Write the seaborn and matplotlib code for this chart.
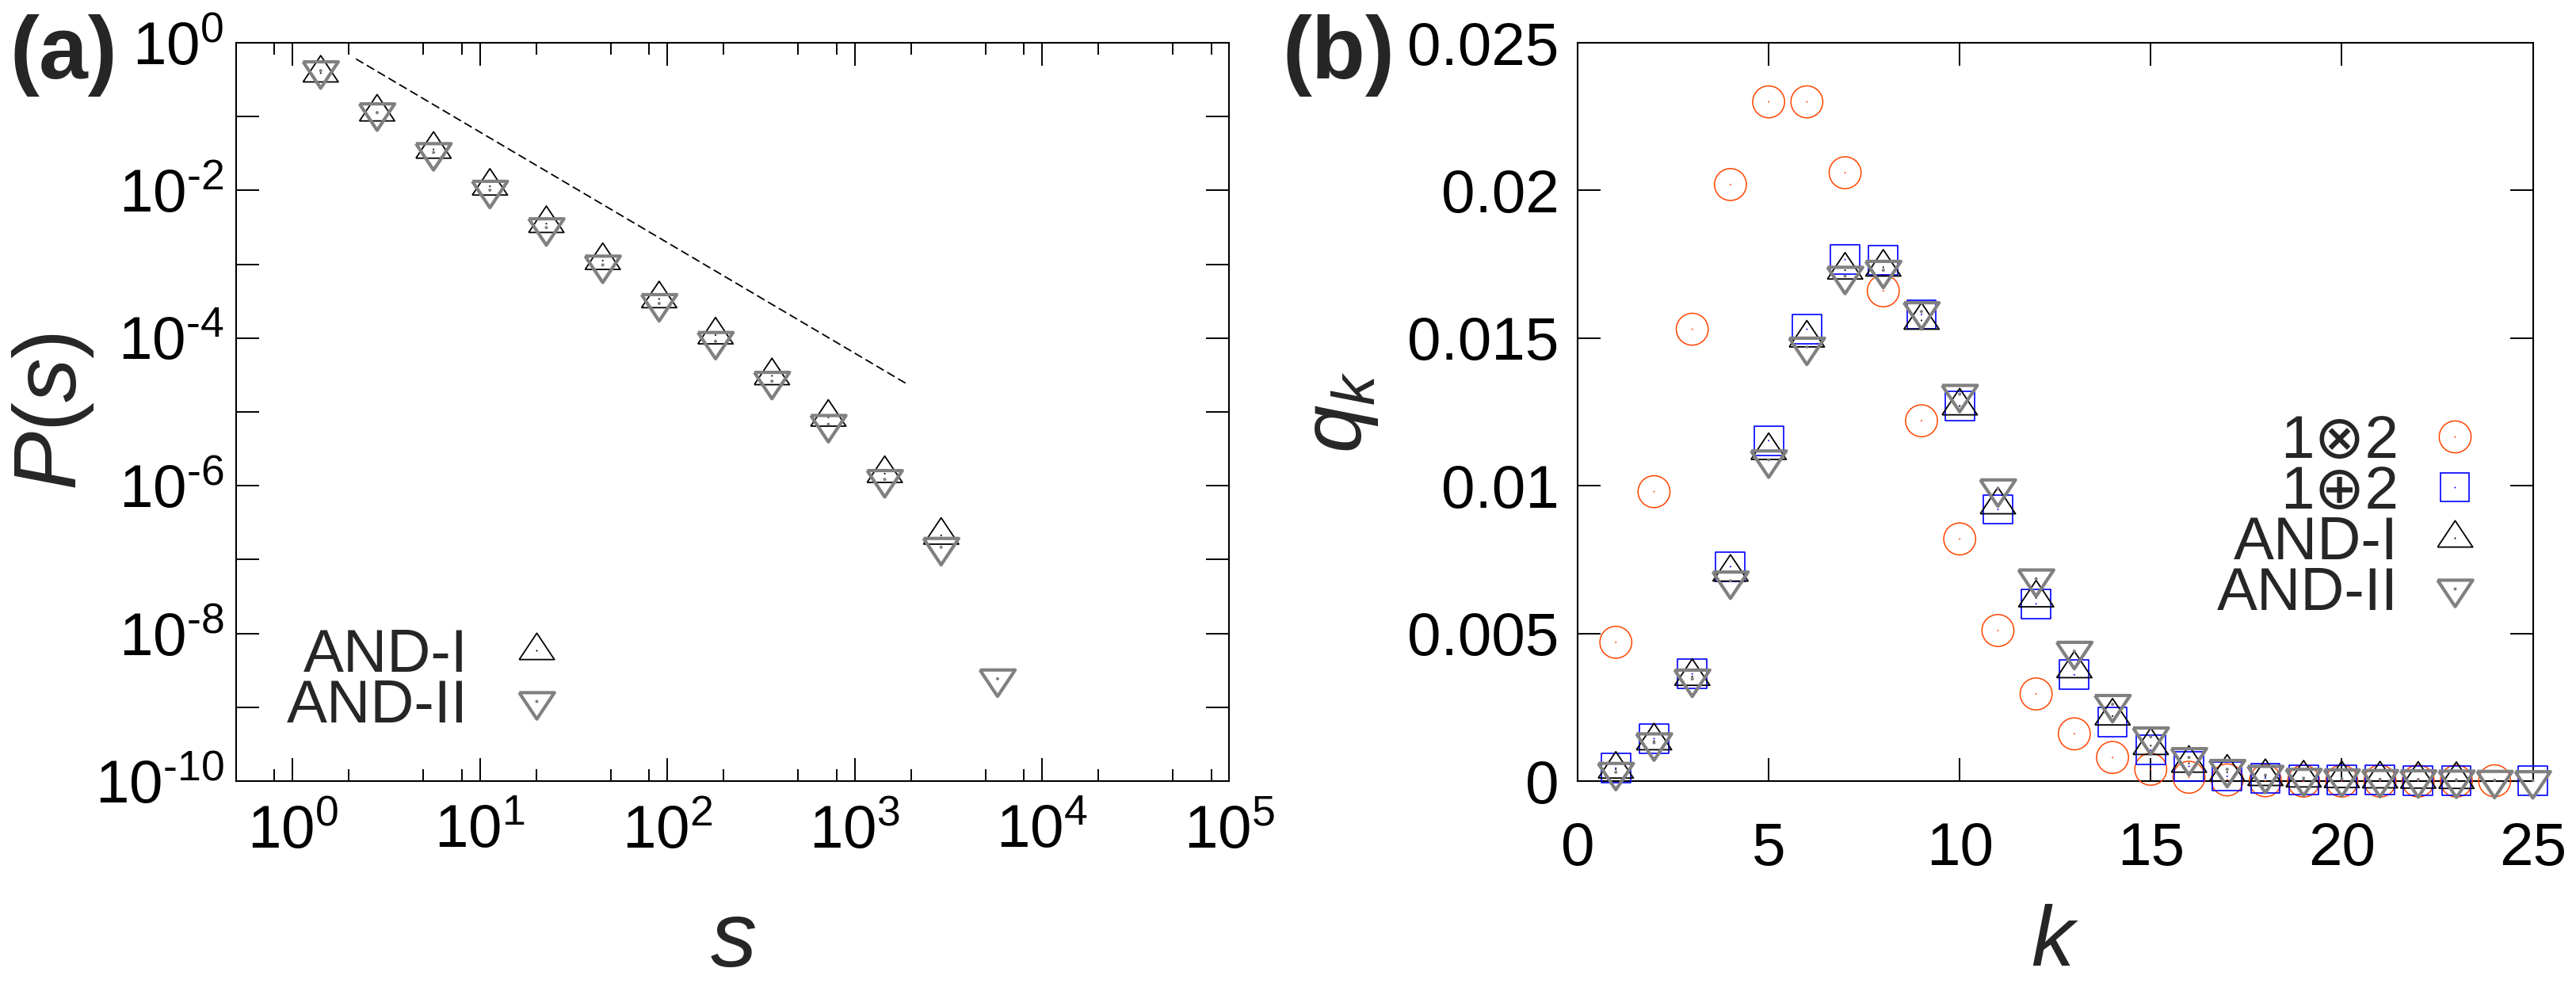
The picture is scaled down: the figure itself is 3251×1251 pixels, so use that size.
import numpy as np
import matplotlib
matplotlib.use('Agg')
import matplotlib.pyplot as plt
from matplotlib.lines import Line2D
from matplotlib.legend_handler import HandlerTuple
from matplotlib.ticker import FixedLocator, FixedFormatter, NullFormatter
import seaborn as sns

# %% data
# (a) P(s), log-binned sizes
s_vals = [1.414, 2.828, 5.657, 11.31, 22.63, 45.25, 90.51, 181.0, 362.0,
          724.1, 1448.0, 2896.0, 5793.0]
p_and1 = [0.388, 0.115, 0.036, 0.0114, 0.00355, 0.00112, 3.4e-4, 1.10e-4,
          3.08e-5, 8.45e-6, 1.46e-6, 2.13e-7, np.nan]
p_and2 = [0.42, 0.113, 0.0327, 0.0101, 0.00314, 9.8e-4, 2.95e-4, 9.06e-5,
          2.61e-5, 6.8e-6, 1.22e-6, 1.47e-7, 2.43e-9]
guide_s = [2.18, 1936.0]
guide_p = [0.605, 2.33e-5]

# (b) q_k
k_vals = list(range(1, 26))
q_otimes = [0.0047, 0.0098, 0.0153, 0.0202, 0.0230, 0.0230, 0.0206, 0.0166,
            0.0122, 0.0082, 0.0051, 0.00295, 0.0016, 0.0008, 0.0004, 0.00013,
            0.00004, 0.00001, 0.0, 0.0, 0.0, 0.0, 0.0, 0.00001, np.nan]
q_oplus = [0.00044, 0.00144, 0.00363, 0.00726, 0.01153, 0.0153, 0.01766,
           0.01763, 0.0158, 0.0127, 0.0092, 0.0060, 0.0036, 0.0020, 0.00105,
           0.0005, 0.00016, 0.0001, 0.00005, 0.00004, 0.00003, 0.00002,
           0.00002, np.nan, 0.00001]
q_and1 = [0.0004, 0.00136, 0.00354, 0.00707, 0.01119, 0.0150, 0.0173, 0.0174,
          0.0156, 0.0127, 0.00935, 0.0062, 0.0038, 0.0022, 0.0012, 0.0006,
          0.0003, 0.00015, 0.0001, 0.00008, 0.00007, 0.00006, 0.00005,
          np.nan, np.nan]
q_and2 = [0.0003, 0.0013, 0.00346, 0.00678, 0.01088, 0.0147, 0.0171, 0.0173,
          0.0159, 0.0131, 0.0099, 0.00685, 0.0044, 0.0026, 0.0015, 0.0008,
          0.0004, 0.0002, 0.0001, 0.00008, 0.00006, 0.00005, 0.00004,
          0.00003, 0.00002]

labels_b = ['1\u22972', '1\u22952', 'AND-I', 'AND-II']

# %% style
sns.set_theme(style='ticks')
plt.rcParams['font.family'] = ['Liberation Sans', 'DejaVu Sans']
plt.rcParams['mathtext.fontset'] = 'custom'
plt.rcParams['mathtext.rm'] = 'Liberation Sans'
plt.rcParams['mathtext.it'] = 'Liberation Sans:italic'
plt.rcParams['mathtext.bf'] = 'Liberation Sans:bold'
plt.rcParams['axes.linewidth'] = 1.5
plt.rcParams['axes.edgecolor'] = 'black'

ORANGE = '#ff4500'
BLUE = '#0000ff'
GRAY = '#808080'
TRI_UP = [(-1, -0.5), (1, -0.5), (0, 1.0), (-1, -0.5)]
TRI_DN = [(-1, 0.5), (1, 0.5), (0, -1.0), (-1, 0.5)]

# marker, size(pt), colour, edge width, centre dot size
sty_otimes = ('o', 29, ORANGE, 1.1, 1.4)
sty_oplus = ('s', 26.5, BLUE, 1.2, 1.4)
sty_and1 = (TRI_UP, 32, 'black', 1.3, 1.5)
sty_and2 = (TRI_DN, 32, GRAY, 3.0, 2.9)


def draw(ax, x, y, sty, z):
    marker, size, color, lw, dot = sty
    sns.scatterplot(x=x, y=y, ax=ax, marker=marker, s=size ** 2, color=color,
                    facecolor='none', edgecolor=color, linewidth=lw,
                    zorder=z, clip_on=False, legend=False)
    sns.scatterplot(x=x, y=y, ax=ax, marker='o', s=dot ** 2, color=color,
                    edgecolor='none', linewidth=0, zorder=z + 0.5,
                    clip_on=False, legend=False)


def key(sty):
    marker, size, color, lw, dot = sty
    return (Line2D([], [], ls='none', marker=marker, ms=size, mfc='none',
                   mec=color, mew=lw),
            Line2D([], [], ls='none', marker='o', ms=dot, mfc=color, mec='none'))


def frame(ax):
    ax.tick_params(which='both', direction='in', top=True, right=True,
                   width=1.4, labelsize=55, colors='black')
    ax.tick_params(which='major', length=21)
    ax.tick_params(which='minor', length=11)
    for sp in ax.spines.values():
        sp.set_visible(True)
        sp.set_linewidth(1.5)


fig = plt.figure(figsize=(32.51, 12.51), dpi=100)
ax_a = fig.add_axes([0.09166, 0.21183, 0.38557, 0.745])
ax_b = fig.add_axes([0.61243, 0.21183, 0.37081, 0.745])

# %% panel (a)
ax_a.set_xscale('log')
ax_a.set_yscale('log')
sns.lineplot(x=guide_s, y=guide_p, ax=ax_a, color='black', linewidth=1.3)
ax_a.lines[-1].set_dashes((6, 2.8))
draw(ax_a, s_vals, p_and1, sty_and1, 3)
draw(ax_a, s_vals, p_and2, sty_and2, 4)
ax_a.set_xlim(0.5, 1e5)
ax_a.set_ylim(1e-10, 1)

frame(ax_a)
xmaj = [10.0 ** e for e in range(0, 6)]
ax_a.xaxis.set_major_locator(FixedLocator(xmaj))
ax_a.xaxis.set_major_formatter(FixedFormatter(
    [r'$\mathregular{10^{%d}}$' % e for e in range(0, 6)]))
xmin = [0.8] + [m * 10.0 ** e for e in range(0, 5) for m in (2, 5, 8)]
ax_a.xaxis.set_minor_locator(FixedLocator(xmin))
ax_a.xaxis.set_minor_formatter(NullFormatter())
ymaj = [10.0 ** e for e in range(-10, 1)]
ax_a.yaxis.set_major_locator(FixedLocator(ymaj))
ax_a.yaxis.set_major_formatter(FixedFormatter(
    [r'$\mathregular{10^{\text{-}%d}}$' % (-e) if (e % 2 == 0 and e < 0)
     else (r'$\mathregular{10^{0}}$' if e == 0 else '')
     for e in range(-10, 1)]))
ax_a.yaxis.set_minor_locator(FixedLocator([]))
ax_a.tick_params(axis='x', which='both', pad=21)
ax_a.tick_params(axis='y', which='both', pad=11)

ax_a.set_xlabel(r'$s$', fontsize=84)
ax_a.xaxis.set_label_coords(0.5, -0.160)
ax_a.set_ylabel(r'$P(s)$', fontsize=80)
ax_a.yaxis.set_label_coords(-0.141, 0.5)

ax_a.legend(handles=[key(sty_and1), key(sty_and2)], labels=['AND-I', 'AND-II'],
            loc='upper right', bbox_to_anchor=(0.3327, 0.207),
            markerfirst=False, frameon=False, fontsize=55,
            handlelength=1.0, handletextpad=0.63, labelspacing=-0.09,
            borderpad=0, borderaxespad=0,
            handler_map={tuple: HandlerTuple(ndivide=1)})

# %% panel (b)
draw(ax_b, k_vals, q_otimes, sty_otimes, 3)
draw(ax_b, k_vals, q_oplus, sty_oplus, 4)
draw(ax_b, k_vals, q_and1, sty_and1, 5)
draw(ax_b, k_vals, q_and2, sty_and2, 6)
ax_b.set_xlim(0, 25)
ax_b.set_ylim(0, 0.025)

frame(ax_b)
ax_b.xaxis.set_major_locator(FixedLocator([0, 5, 10, 15, 20, 25]))
ax_b.xaxis.set_major_formatter(FixedFormatter(['0', '5', '10', '15', '20', '25']))
ax_b.yaxis.set_major_locator(FixedLocator([0, 0.005, 0.01, 0.015, 0.02, 0.025]))
ax_b.yaxis.set_major_formatter(FixedFormatter(
    ['0', '0.005', '0.01', '0.015', '0.02', '0.025']))
ax_b.xaxis.set_minor_locator(FixedLocator([]))
ax_b.yaxis.set_minor_locator(FixedLocator([]))
ax_b.tick_params(axis='x', which='both', pad=37)
ax_b.tick_params(axis='y', which='both', pad=17)

ax_b.set_xlabel(r'$k$', fontsize=78)
ax_b.xaxis.set_label_coords(0.5, -0.166)
ax_b.set_ylabel(r'$q_k$', fontsize=78)
ax_b.yaxis.set_label_coords(-0.2066, 0.5)

ax_b.legend(handles=[key(sty_otimes), key(sty_oplus), key(sty_and1), key(sty_and2)],
            labels=labels_b, loc='upper right', bbox_to_anchor=(0.950, 0.497),
            markerfirst=False, frameon=False, fontsize=55,
            handlelength=1.0, handletextpad=0.43, labelspacing=-0.09,
            borderpad=0, borderaxespad=0,
            handler_map={tuple: HandlerTuple(ndivide=1)})

# %% panel tags
fig.text(13 / 3251, 1 - 18 / 1251, '(a)', ha='left', va='top',
         fontsize=80, fontweight='bold')
fig.text(1618 / 3251, 1 - 18 / 1251, '(b)', ha='left', va='top',
         fontsize=80, fontweight='bold')

fig.savefig('out.png', dpi=100, facecolor='white')
